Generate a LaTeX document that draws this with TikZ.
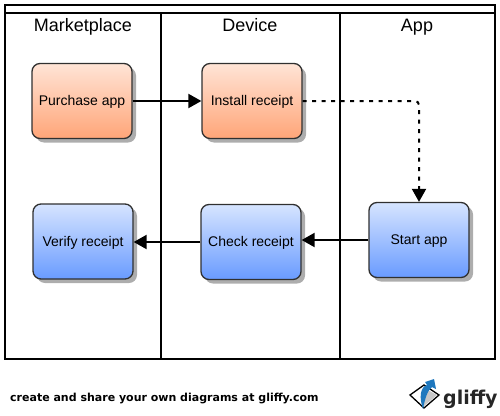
\documentclass[tikz,border=0pt]{standalone}
\usepackage{fontspec}
\setmainfont{Liberation Sans}
\newfontfamily\footfont{DejaVu Sans}
\usetikzlibrary{arrows.meta,shadows}
\definecolor{orangetop}{RGB}{255,228,214}
\definecolor{orangebot}{RGB}{255,165,120}
\definecolor{bluetop}{RGB}{214,228,255}
\definecolor{bluebot}{RGB}{105,155,255}
\definecolor{boxline}{RGB}{48,48,48}
\definecolor{logoblue}{RGB}{30,120,190}

\begin{document}
\begin{tikzpicture}[
    x=1pt,y=-1pt,
    lane/.style={draw=black,line width=1.5pt},
    heading/.style={font=\fontsize{18}{20}\selectfont,inner sep=0pt,anchor=base},
    stepbox/.style={rectangle,rounded corners=8pt,draw=boxline,line width=1.3pt,
        minimum width=100pt,minimum height=75pt,inner sep=0pt,
        text height=11pt,text depth=2pt,
        font=\fontsize{14}{15}\selectfont,
        drop shadow={shadow xshift=4pt,shadow yshift=-4pt,fill=black!32,opacity=1}},
    obox/.style={stepbox,top color=orangetop,bottom color=orangebot},
    bbox/.style={stepbox,top color=bluetop,bottom color=bluebot},
    conn/.style={line width=2pt,-{Triangle[length=13pt,width=14pt]}},
    ]
    \useasboundingbox (0,0) rectangle (500,415);
    \draw[lane] (5,5) rectangle (495,359);
    \draw[lane] (5,13) -- (495,13);
    \draw[lane] (161,13) -- (161,359);
    \draw[lane] (340,13) -- (340,359);

    \node[heading] (market) at (83,31) {Marketplace};
    \node[heading] (device) at (250,31) {Device};
    \node[heading] (appl) at (417,31) {App};

    \node[obox] (purchase) at (82,101) {Purchase app};
    \node[obox] (install) at (252,101) {Install receipt};
    \node[bbox] (verify) at (83,241.5) {Verify receipt};
    \node[bbox] (check) at (251,242) {Check receipt};
    \node[bbox] (start) at (419,240) {Start app};

    \coordinate (bend) at (start.north |- install.east);

    \draw[conn] (purchase) -- (install);
    \draw[conn,dash pattern=on 4pt off 5.5pt,rounded corners=4pt] (install.east) -- (bend) -- (start.north);
    \draw[conn] (start.west) -- (start.west -| check.east);
    \draw[conn] (check.west) -- (check.west -| verify.east);

    \node[anchor=west,inner sep=0pt,font=\footfont\bfseries\fontsize{11}{12}\selectfont] (foot) at (10,399) {create and share your own diagrams at gliffy.com};

    % logo
    \draw[black,line width=1.3pt,fill=white,line join=miter] (410,395) -- (424,385) -- (439,395) -- (424,408) -- cycle;
    \fill[black!22] (424,388) -- (437,395) -- (424,406) -- cycle;
    \fill[logoblue] (423,409) .. controls (419,398) and (420,387) .. (427,385) -- (425,382) -- (434,379) -- (436,389) -- (432,387) .. controls (427,391) and (425,399) .. cycle;
    \node[anchor=base west,inner sep=0pt,font=\footfont\bfseries\fontsize{19}{24}\selectfont,text=black!85] (logotext) at (443,404) {gliffy};
\end{tikzpicture}
\end{document}
